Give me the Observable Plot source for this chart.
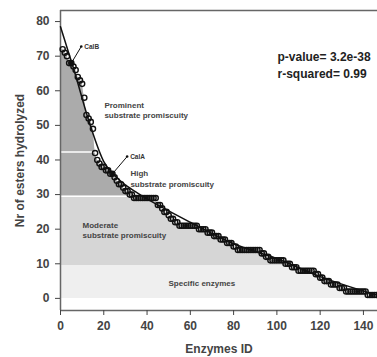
<!DOCTYPE html>
<html><head><meta charset="utf-8">
<script src="https://cdn.jsdelivr.net/npm/d3@7"></script>
<script src="https://cdn.jsdelivr.net/npm/@observablehq/plot@0.6"></script>
<style>body{margin:0;background:#fff} #chart svg{display:block}</style>
</head><body><div id="chart"></div>
<script>
// number of esters hydrolyzed per enzyme, sorted descending
const esters = [72,71,70,68,68,67,66,64,63,62, 58,53,52,51,49,42,40,39,38,38,
  37,37,36,36,35,34,33,33,32,31, 31,30,30,29,29,29,29,29,29,29,
  29,29,29,29,27,27,26,25,25,24, 23,23,22,22,21,21,21,21,21,21,
  21,21,21,20,20,20,20,19,19,19, 18,18,18,17,17,17,16,16,16,15,
  15,14,14,14,14,14,14,14,14,14, 14,14,13,13,12,12,11,11,11,11,
  11,11,11,10,10,10,9,9,9,8, 8,8,8,8,8,8,8,7,7,6,
  6,5,5,5,4,4,4,4,3,3, 3,2,2,2,2,2,2,2,2,2, 2,1,1,1,1,1];
const enzymeIds = esters.map((_, i) => i + 1);

// fitted curve
const fitX = [0, 6, 14, 20, 25, 30, 36, 47, 60, 80, 100, 120, 146];
const fitY = [78.5, 66.5, 49.5, 39.5, 35.5, 32.8, 30.3, 26.3, 22, 15.8, 11.5, 6.3, 1];

// zone boundaries (esters)
const zoneBreaks = [0, 9.5, 29.5, 42.3];
const zoneNames = ["Specific enzymes", "Moderate\nsubstrate promiscuity", "High\nsubstrate promiscuity", "Prominent\nsubstrate promiscuity"];
const zoneLabelX = [49.9, 10.2, 32.3, 20.3];
const zoneLabelY = [4.6, 19.8, 34.7, 54.6];

// highlighted enzymes
const calNames = ["CalB", "CalA"];
const calIndex = [5, 24];
const calLabelX = [9.6, 30.8];
const calLabelY = [72.8, 41];

const statLines = ["p-value= 3.2e-38", "r-squared= 0.99"];

const xTicks = [0, 20, 40, 60, 80, 100, 120, 140];
const yTicks = [0, 10, 20, 30, 40, 50, 60, 70, 80];
const xDomain = [0, 146.5];
const yDomain = [-3.5, 83.2];

const points = enzymeIds.map((id, i) => ({x: id, v: esters[i]}));
const areaRows = [{x: xDomain[0], v: esters[0]}, ...points, {x: xDomain[1], v: esters[esters.length - 1]}];
const fit = fitX.map((x, i) => ({x, y: fitY[i]}));
const zoneFills = ["#efefef", "#d6d6d6", "#ababab"];
const zoneAreas = zoneFills.map((fill, k) => Plot.areaY(areaRows, {
  x: "x", y1: () => zoneBreaks[k], y2: d => Math.max(zoneBreaks[k], d.v), fill
}));
function crossing(level) {
  for (let i = 1; i < esters.length; i++) {
    if (esters[i] < level) {
      const a = esters[i - 1], b = esters[i];
      return enzymeIds[i - 1] + (a - level) / (a - b);
    }
  }
  return xDomain[1];
}
const whiteLines = [zoneBreaks[2], zoneBreaks[3]].map(L =>
  Plot.ruleY([L], {x1: xDomain[0], x2: crossing(L), stroke: "white", strokeWidth: 1.5}));

const zoneLabels = zoneNames.map((t, i) => ({t, x: zoneLabelX[i], y: zoneLabelY[i]}));
const cals = calNames.map((n, i) => ({n, x: calIndex[i], y: esters[calIndex[i] - 1], lx: calLabelX[i], ly: calLabelY[i]}));
const stats = statLines.map((t, i) => ({t, i}));

const chart = Plot.plot({
  width: 377, height: 357,
  marginLeft: 60, marginRight: 0, marginTop: 10, marginBottom: 47,
  style: {fontFamily: "'Liberation Sans', Arial, sans-serif", fontSize: "12px", fontWeight: "bold", background: "#fff"},
  x: {domain: xDomain},
  y: {domain: yDomain},
  marks: [
    ...zoneAreas,
    ...whiteLines,
    Plot.ruleX([xDomain[0]], {stroke: "#666", strokeWidth: 1.5}),
    Plot.ruleY([yDomain[0], yDomain[1]], {stroke: "#666", strokeWidth: 1.5}),
    Plot.axisX({ticks: xTicks, tickSize: 5, tickPadding: 6, color: "#444", label: "Enzymes ID", labelAnchor: "center", labelOffset: 42, labelArrow: false, fontSize: 12, fontWeight: "bold"}),
    Plot.axisY({ticks: yTicks, tickSize: 5, tickPadding: 6, color: "#444", label: "Nr of esters hydrolyzed", labelAnchor: "center", labelOffset: 45, labelArrow: false, fontSize: 12, fontWeight: "bold"}),
    Plot.text(zoneLabels, {x: "x", y: "y", text: "t", textAnchor: "start", lineAnchor: "middle", lineHeight: 1.3, fontSize: 8, fontWeight: "bold", fill: "#444"}),
    Plot.line(fit, {x: "x", y: "y", curve: "monotone-x", stroke: "#111", strokeWidth: 1.5}),
    Plot.dot(points, {x: "x", y: "v", r: 2.6, stroke: "#111", strokeWidth: 1.4, fill: "none"}),
    Plot.link(cals, {x1: "x", y1: "y", x2: "lx", y2: "ly", stroke: "#111", strokeWidth: 1}),
    Plot.dot(cals, {x: "x", y: "y", symbol: "square", r: 2.6, fill: "#111"}),
    Plot.dot(cals, {x: "lx", y: "ly", r: 1.3, fill: "#111"}),
    Plot.text(cals, {x: "lx", y: "ly", text: "n", dx: 3, textAnchor: "start", fontSize: 6.5, fontWeight: "bold", fill: "#333"}),
    Plot.text(stats, {x: () => 100.3, y: d => 69.7 - d.i * 5, text: "t", textAnchor: "start", fontSize: 12, fontWeight: "bold", fill: "#222"})
  ]
});
document.getElementById("chart").appendChild(chart);
</script>
</body></html>
